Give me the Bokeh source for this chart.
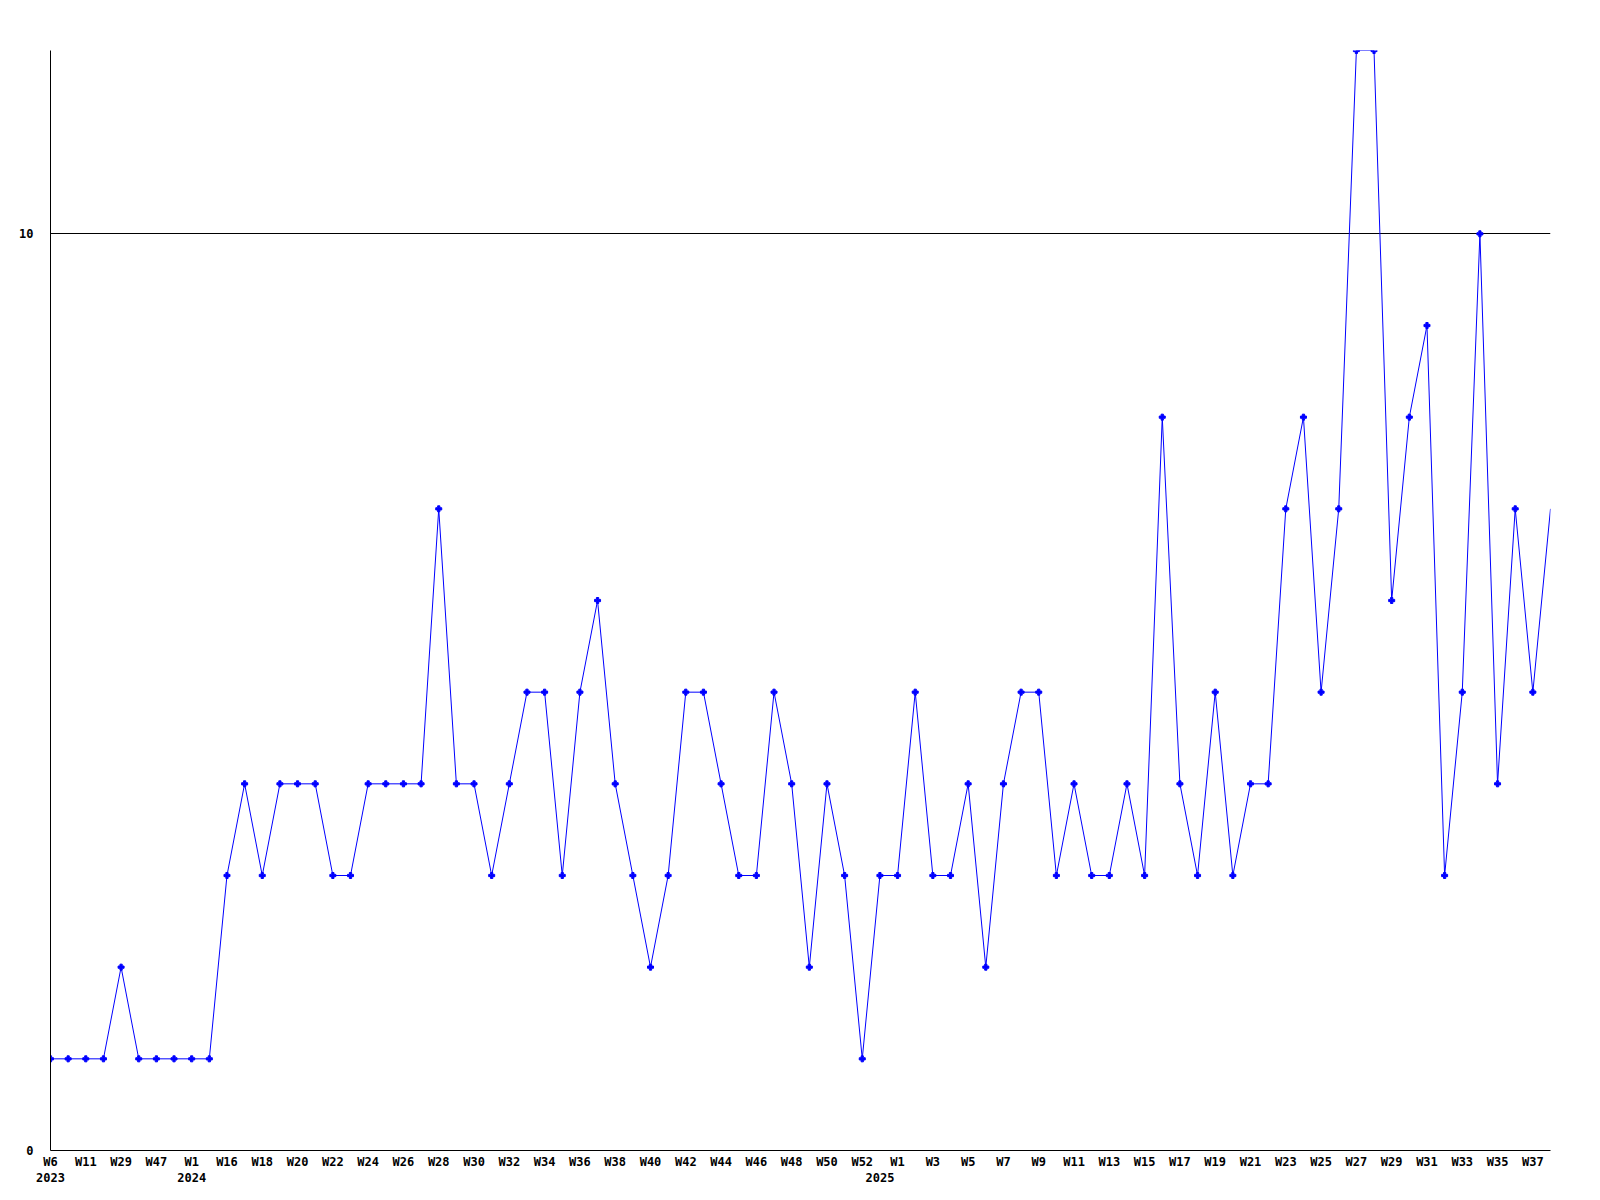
from bokeh.plotting import figure
from bokeh.models import Range1d, FixedTicker
from bokeh.embed import file_html
from bokeh.resources import INLINE

# weekly counts (one point per week)
values = [1, 1, 1, 1, 2, 1, 1, 1, 1, 1,
          3, 4, 3, 4, 4, 4, 3, 3, 4, 4,
          4, 4, 7, 4, 4, 3, 4, 5, 5, 3,
          5, 6, 4, 3, 2, 3, 5, 5, 4, 3,
          3, 5, 4, 2, 4, 3, 1, 3, 3, 5,
          3, 3, 4, 2, 4, 5, 5, 3, 4, 3,
          3, 4, 3, 8, 4, 3, 5, 3, 4, 4,
          7, 8, 5, 7, 12, 12, 6, 8, 9, 3,
          5, 10, 4, 7, 5, 7]

# week labels ("" where the label is not readable in the source)
weeks = (["W6", "", "W11", "", "W29", "", "W47", ""]
         + ["W1", ""] + ["W%d" % w for w in range(16, 53)]
         + [""] + ["W%d" % w for w in range(1, 39)])

years = ["2023"] * 8 + ["2024"] * 39 + ["2025"] * 39

y_ticks = [0, 10]
y_max = 12

n = len(values)
xs = list(range(n))

# tick labels: every other week, plus the year where it changes
overrides = {}
for i in range(n):
    week = weeks[i] if i % 2 == 0 else ""
    year = years[i] if (i == 0 or years[i] != years[i - 1]) else ""
    if week or year:
        overrides[i] = week + ("\n" + year if year else "")
ticks = sorted(overrides.keys())

p = figure(frame_width=1500, frame_height=1100,
           x_range=Range1d(0, n - 1), y_range=Range1d(0, y_max),
           output_backend="svg", toolbar_location=None,
           min_border_left=50, min_border_right=42,
           min_border_top=50, min_border_bottom=42)

p.outline_line_color = None
p.background_fill_color = "white"
p.border_fill_color = "white"

p.line(xs, values, line_color="#0000FF", line_width=1)
p.scatter(xs[:-1], values[:-1], marker="plus", size=6,
          fill_color="#0000FF", line_color="#0000FF")

font = "DejaVu Sans Mono"

# x axis
xa = p.xaxis[0]
xa.ticker = FixedTicker(ticks=ticks)
xa.major_label_overrides = {k: v for k, v in overrides.items()}
xa.major_tick_line_color = None
xa.minor_tick_line_color = None
xa.major_tick_out = 0
xa.major_tick_in = 0
xa.major_label_standoff = 4
xa.axis_line_color = "black"
xa.major_label_text_font = font
xa.major_label_text_font_style = "bold"
xa.major_label_text_font_size = "12px"
xa.major_label_text_color = "black"

# y axis
ya = p.yaxis[0]
ya.ticker = FixedTicker(ticks=y_ticks)
ya.major_tick_line_color = None
ya.minor_tick_line_color = None
ya.major_tick_out = 0
ya.major_tick_in = 0
ya.major_label_standoff = 17
ya.axis_line_color = "black"
ya.major_label_text_font = font
ya.major_label_text_font_style = "bold"
ya.major_label_text_font_size = "12px"
ya.major_label_text_color = "black"

p.xgrid.visible = False
p.ygrid.ticker = FixedTicker(ticks=[10])
p.ygrid.grid_line_color = "black"
p.ygrid.grid_line_alpha = 1.0
p.ygrid.grid_line_width = 1

open("out.html", "w").write(file_html(p, INLINE))
